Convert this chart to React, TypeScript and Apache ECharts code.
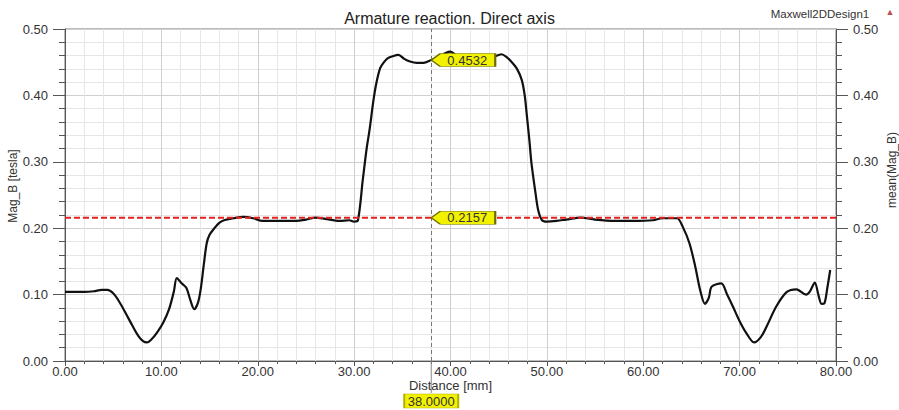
import React, { useEffect, useRef } from "react";
import * as echarts from "echarts";

// Distance along the path [mm]
const distance = [
  0, 1, 2, 3, 3.8, 4.4, 5.0, 5.6, 6.3, 7.0, 7.6, 8.1, 8.5, 9.0, 9.6, 10.2, 10.8, 11.3, 11.6, 12.1,
  12.6, 13.0, 13.4, 13.8, 14.1, 14.4, 14.7, 15.0, 15.5, 16.0, 16.5, 17.5, 18.5, 19.5, 20.5, 22, 24, 25,
  26, 27, 28.5, 29.5, 30, 30.4, 30.9, 31.3, 31.6, 32.0, 32.3, 32.7, 33.1, 33.5, 34.0, 34.6, 35.2, 35.8,
  36.5, 37.2, 38.0, 38.8, 39.5, 40.0, 40.6, 41.5, 42.5, 43.5, 44.5, 45.3, 45.8, 46.3, 46.9, 47.4, 47.7,
  47.9, 48.2, 48.4, 48.8, 49.1, 49.5, 50.0, 51, 52, 53.5, 55, 57, 59, 61, 62, 63.5, 64.1, 64.8, 65.4,
  65.9, 66.4, 66.8, 67.1, 68.1, 68.7, 69.3, 70.0, 70.7, 71.5, 72.2, 72.8, 73.8, 74.9, 75.9, 76.9, 77.3,
  77.8, 78.2, 78.5, 78.8, 79.1, 79.4,
];
// Mag_B [tesla]
const magB = [
  0.104, 0.104, 0.104, 0.105, 0.107, 0.107, 0.102, 0.09, 0.072, 0.053, 0.038, 0.03, 0.028, 0.033, 0.044,
  0.058, 0.078, 0.105, 0.125, 0.117, 0.11, 0.092, 0.078, 0.088, 0.11, 0.145, 0.177, 0.19, 0.2, 0.208,
  0.212, 0.215, 0.217, 0.215, 0.211, 0.211, 0.211, 0.213, 0.216, 0.214, 0.211, 0.212, 0.21, 0.212, 0.273,
  0.32, 0.348, 0.392, 0.418, 0.441, 0.45, 0.456, 0.459, 0.461, 0.455, 0.451, 0.449, 0.449, 0.4532, 0.458,
  0.464, 0.466, 0.46, 0.453, 0.451, 0.452, 0.458, 0.462, 0.458, 0.451, 0.44, 0.423, 0.4, 0.373, 0.33,
  0.298, 0.255, 0.227, 0.212, 0.21, 0.211, 0.213, 0.216, 0.213, 0.211, 0.211, 0.212, 0.215, 0.215, 0.202,
  0.177, 0.142, 0.107, 0.086, 0.095, 0.112, 0.117, 0.1, 0.082, 0.06, 0.042, 0.028, 0.036, 0.052, 0.082,
  0.104, 0.108, 0.1, 0.105, 0.118, 0.098, 0.086, 0.087, 0.11, 0.137,
];
const meanMagB = 0.2157;
const cursorX = 38;
const cursorValue = 0.4532;
const xRange = [0, 80];
const yRange = [0, 0.5];

const FONT = "'Liberation Sans', Arial, sans-serif";
const YELLOW = "#f2f200";
const TAG = "path://M0,6.5 L9,0 L64,0 L64,13 L9,13 Z";

export default function App() {
  const ref = useRef<HTMLDivElement>(null);
  useEffect(() => {
    document.body.style.margin = "0";
    const chart = echarts.init(ref.current!, null, { renderer: "svg" });
    const yAxisBase = (position: "left" | "right") => ({
      type: "value",
      position,
      min: yRange[0],
      max: yRange[1],
      interval: 0.1,
      axisLine: { show: true, lineStyle: { color: "#555", width: 1 } },
      axisTick: { show: true, inside: false, length: 12, lineStyle: { color: "#555" } },
      minorTick: { show: true, splitNumber: 5, length: 6, lineStyle: { color: "#555" } },
      splitLine: { show: position === "left", lineStyle: { color: "#cfcfcf", width: 1 } },
      minorSplitLine: { show: position === "left", lineStyle: { color: "#e6e6e6", width: 1 } },
      axisLabel: {
        margin: 17,
        fontSize: 13,
        color: "#333",
        fontFamily: FONT,
        formatter: (v: number) => v.toFixed(2),
      },
    });
    chart.setOption({
      animation: false,
      backgroundColor: "#ffffff",
      title: {
        text: "Armature reaction. Direct axis",
        left: "center",
        top: 5,
        textStyle: { fontSize: 16, fontWeight: "normal", color: "#222", fontFamily: FONT },
      },
      grid: {
        left: 65,
        right: 63,
        top: 29,
        bottom: 49,
        show: true,
        borderColor: "#777",
        borderWidth: 1,
      },
      xAxis: {
        type: "value",
        min: xRange[0],
        max: xRange[1],
        interval: 10,
        name: "Distance [mm]",
        nameLocation: "middle",
        nameGap: 18,
        nameMoveOverlap: false,
        nameTextStyle: { fontSize: 13, color: "#333", fontFamily: FONT },
        axisLine: { show: true, onZero: false, lineStyle: { color: "#555" } },
        axisTick: { show: true, length: 5, lineStyle: { color: "#555" } },
        minorTick: { show: true, splitNumber: 5, length: 3, lineStyle: { color: "#555" } },
        splitLine: { show: true, lineStyle: { color: "#cfcfcf" } },
        minorSplitLine: { show: true, lineStyle: { color: "#e6e6e6" } },
        axisLabel: {
          margin: 4,
          fontSize: 13,
          color: "#333",
          fontFamily: FONT,
          formatter: (v: number) => v.toFixed(2),
        },
      },
      yAxis: [yAxisBase("left"), yAxisBase("right")],
      graphic: [
        {
          type: "text",
          x: 820,
          y: 14,
          style: {
            text: "Maxwell2DDesign1",
            font: `11.5px ${FONT}`,
            fill: "#333",
            textAlign: "center",
            textVerticalAlign: "middle",
          },
        },
        {
          type: "text",
          x: 890,
          y: 12,
          style: {
            text: "▲",
            font: `9px ${FONT}`,
            fill: "#c0504d",
            textAlign: "center",
            textVerticalAlign: "middle",
          },
        },
        {
          type: "text",
          x: 13,
          y: 186,
          rotation: Math.PI / 2,
          style: {
            text: "Mag_B [tesla]",
            font: `12px ${FONT}`,
            fill: "#333",
            textAlign: "center",
            textVerticalAlign: "middle",
          },
        },
        {
          type: "text",
          x: 892,
          y: 170,
          rotation: Math.PI / 2,
          style: {
            text: "mean(Mag_B)",
            font: `12px ${FONT}`,
            fill: "#333",
            textAlign: "center",
            textVerticalAlign: "middle",
          },
        },
      ],
      series: [
        {
          name: "Mag_B",
          type: "line",
          data: distance.map((x, i) => [x, magB[i]]),
          showSymbol: false,
          symbol: "none",
          smooth: 0.3,
          lineStyle: { color: "#111", width: 2.2 },
          markLine: {
            silent: true,
            symbol: "none",
            label: { show: false },
            lineStyle: { color: "#777", type: [4, 3], width: 1 },
            data: [{ xAxis: cursorX }],
          },
          markPoint: {
            silent: true,
            data: [
              {
                coord: [cursorX, cursorValue],
                symbol: TAG,
                symbolSize: [64, 13],
                symbolKeepAspect: false,
                symbolOffset: [32, 0],
                itemStyle: { color: YELLOW, borderColor: "#6b6b00", borderWidth: 1 },
                label: {
                  show: true,
                  position: "inside",
                  offset: [4, 0],
                  formatter: cursorValue.toFixed(4),
                  fontSize: 13,
                  color: "#333",
                  fontFamily: FONT,
                },
              },
              {
                coord: [cursorX, 0],
                symbol: "rect",
                symbolSize: [1, 32],
                symbolOffset: [0, 16],
                itemStyle: { color: "#888" },
                label: { show: false },
              },
              {
                coord: [cursorX, 0],
                symbol: "rect",
                symbolSize: [54, 14],
                symbolOffset: [0, 40],
                itemStyle: { color: YELLOW, borderColor: "#b0b000", borderWidth: 1 },
                label: {
                  show: true,
                  position: "inside",
                  formatter: cursorX.toFixed(4),
                  fontSize: 13,
                  color: "#333",
                  fontFamily: FONT,
                },
              },
            ],
          },
        },
        {
          name: "mean(Mag_B)",
          type: "line",
          yAxisIndex: 1,
          data: [
            [xRange[0], meanMagB],
            [xRange[1], meanMagB],
          ],
          showSymbol: false,
          symbol: "none",
          lineStyle: { color: "#e3201f", width: 2, type: [6, 3] },
          markPoint: {
            silent: true,
            data: [
              {
                coord: [cursorX, meanMagB],
                symbol: TAG,
                symbolSize: [64, 13],
                symbolKeepAspect: false,
                symbolOffset: [32, 0],
                itemStyle: { color: YELLOW, borderColor: "#6b6b00", borderWidth: 1 },
                label: {
                  show: true,
                  position: "inside",
                  offset: [4, 0],
                  formatter: meanMagB.toFixed(4),
                  fontSize: 13,
                  color: "#333",
                  fontFamily: FONT,
                },
              },
            ],
          },
        },
      ],
    });
    return () => chart.dispose();
  }, []);
  return <div ref={ref} style={{ width: 899, height: 410 }} />;
}
